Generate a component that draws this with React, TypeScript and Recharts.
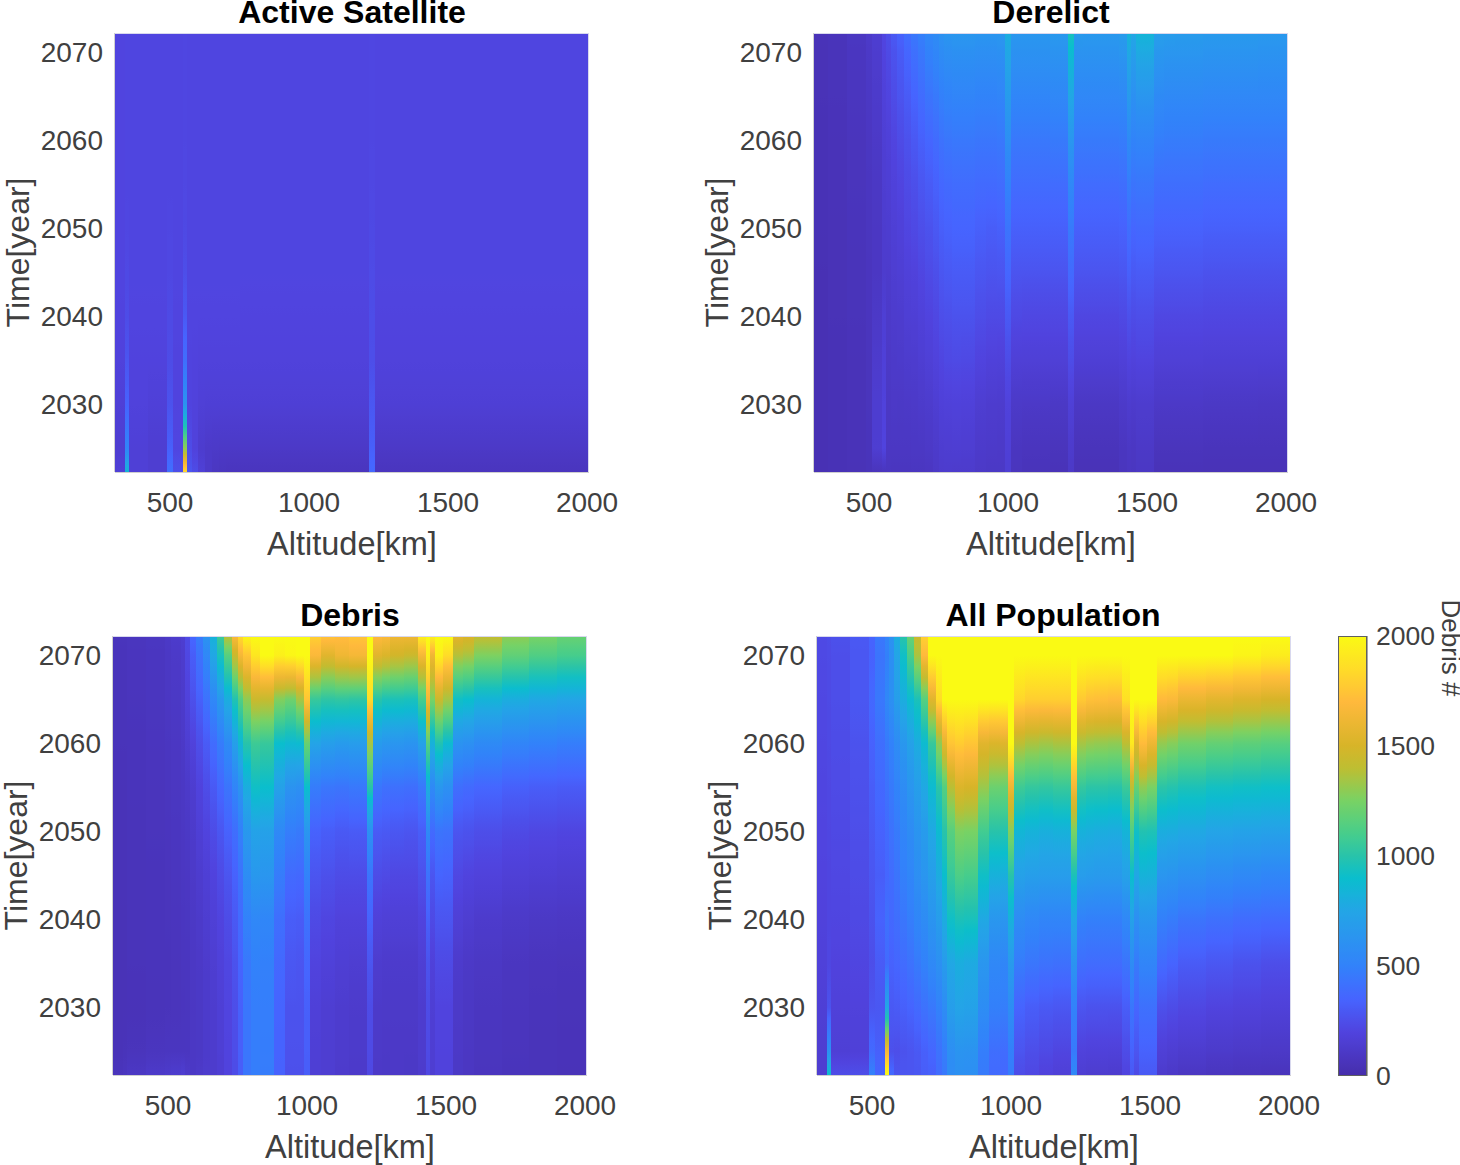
import { ScatterChart, Scatter, XAxis, YAxis } from 'recharts';

// column edges in km, narrow bins where the spikes and the steep flank sit
const altEdges = [
  302, 338, 352, 420, 490, 511, 547, 561, 580, 600, 625, 650, 675, 700, 730, 750, 770, 800, 830, 880, 920, 960, 990, 1010,
  1050, 1100, 1150, 1215, 1237, 1270, 1300, 1350, 1400, 1428, 1442, 1460, 1490, 1525, 1560, 1600, 1700,
  1800, 1900, 2007,
];
// rows run top to bottom of each panel
const yearNodes = [2072.2, 2070, 2065, 2060, 2055, 2050, 2045, 2040, 2035, 2030, 2025, 2022.3];
const altTicks = [500, 1000, 1500, 2000];
const yearTicks = [2030, 2040, 2050, 2060, 2070];
const colorbarTicks = [0, 500, 1000, 1500, 2000];
const colorbarLevels = [2000, 1900, 1800, 1700, 1600, 1500, 1400, 1300, 1200, 1100, 1000, 900, 800, 700, 600, 500, 400, 300, 200, 100, 0];

const activeGrid = [
  [205, 210, 210, 210, 210, 210, 215, 210, 210, 210, 210, 210, 210, 210, 210, 210, 210, 210, 210, 210, 210, 210, 210, 210, 210, 210, 210, 215, 210, 210, 210, 210, 210, 210, 210, 210, 210, 210, 210, 210, 210, 210, 210],
  [205, 210, 210, 210, 210, 210, 215, 210, 210, 210, 210, 210, 210, 210, 210, 210, 210, 210, 210, 210, 210, 210, 210, 210, 210, 210, 210, 215, 210, 210, 210, 210, 210, 210, 210, 210, 210, 210, 210, 210, 210, 210, 210],
  [205, 210, 210, 210, 210, 210, 215, 210, 210, 210, 210, 210, 210, 210, 210, 210, 210, 210, 210, 210, 210, 210, 210, 210, 210, 210, 210, 215, 210, 210, 210, 210, 210, 210, 210, 210, 210, 210, 210, 210, 210, 210, 210],
  [205, 210, 210, 210, 210, 210, 215, 210, 210, 210, 210, 210, 210, 210, 210, 210, 210, 210, 210, 210, 210, 210, 210, 210, 210, 210, 210, 215, 210, 210, 210, 210, 210, 210, 210, 210, 210, 210, 210, 210, 210, 210, 210],
  [205, 210, 210, 210, 210, 210, 220, 210, 210, 210, 210, 210, 210, 210, 210, 210, 210, 210, 210, 210, 210, 210, 210, 210, 210, 210, 210, 220, 210, 210, 210, 210, 210, 210, 210, 210, 210, 210, 210, 210, 210, 210, 210],
  [205, 215, 210, 210, 215, 210, 225, 210, 210, 210, 210, 210, 210, 210, 210, 210, 210, 210, 210, 210, 210, 210, 210, 210, 210, 210, 210, 225, 210, 210, 210, 210, 210, 210, 210, 210, 210, 210, 210, 210, 210, 210, 210],
  [205, 225, 210, 210, 220, 210, 250, 210, 210, 210, 210, 210, 210, 210, 210, 210, 210, 210, 210, 210, 210, 210, 210, 210, 210, 210, 210, 235, 210, 210, 210, 210, 210, 210, 210, 210, 210, 210, 210, 210, 210, 210, 210],
  [200, 240, 205, 205, 230, 205, 300, 205, 205, 205, 205, 205, 205, 205, 205, 200, 200, 200, 200, 200, 200, 200, 200, 200, 200, 200, 200, 245, 200, 200, 200, 200, 200, 200, 200, 200, 200, 200, 200, 200, 200, 200, 200],
  [190, 280, 195, 195, 240, 200, 400, 200, 195, 190, 190, 190, 190, 190, 190, 190, 190, 190, 190, 190, 190, 190, 190, 190, 190, 190, 190, 250, 190, 190, 190, 190, 190, 190, 190, 190, 190, 190, 190, 190, 190, 190, 190],
  [170, 340, 190, 175, 270, 200, 620, 200, 190, 170, 165, 165, 165, 165, 165, 165, 165, 165, 165, 165, 165, 165, 165, 165, 165, 165, 165, 290, 165, 165, 165, 165, 165, 165, 165, 165, 165, 165, 165, 165, 165, 165, 165],
  [150, 520, 170, 150, 330, 210, 1300, 240, 190, 140, 120, 115, 110, 110, 110, 110, 110, 110, 110, 110, 110, 110, 110, 110, 110, 110, 110, 330, 110, 110, 110, 110, 110, 110, 110, 110, 110, 110, 110, 110, 110, 110, 110],
  [170, 850, 170, 150, 400, 250, 1850, 280, 240, 170, 120, 90, 80, 75, 75, 75, 75, 75, 75, 75, 75, 75, 75, 75, 75, 75, 75, 370, 75, 75, 75, 75, 75, 75, 75, 75, 75, 75, 75, 75, 75, 75, 75],
];

const derelictGrid = [
  [55, 55, 65, 90, 120, 150, 210, 250, 300, 340, 400, 450, 490, 540, 570, 610, 640, 650, 650, 640, 640, 650, 800, 650, 650, 650, 660, 950, 670, 660, 660, 660, 680, 830, 760, 840, 840, 700, 690, 680, 670, 670, 660],
  [50, 50, 60, 85, 110, 140, 200, 230, 270, 310, 360, 410, 450, 500, 530, 570, 590, 600, 600, 590, 590, 600, 760, 610, 610, 610, 620, 880, 620, 620, 620, 620, 640, 770, 700, 780, 780, 650, 640, 640, 630, 630, 620],
  [50, 50, 60, 80, 100, 125, 180, 205, 240, 275, 310, 350, 390, 430, 455, 490, 510, 520, 520, 510, 510, 520, 680, 530, 530, 530, 540, 760, 540, 540, 540, 540, 550, 670, 600, 640, 640, 560, 550, 550, 540, 540, 540],
  [45, 45, 55, 70, 90, 110, 160, 175, 205, 235, 265, 295, 330, 360, 385, 420, 440, 450, 450, 440, 440, 450, 590, 450, 450, 450, 460, 640, 460, 460, 460, 460, 470, 560, 510, 520, 520, 480, 470, 470, 460, 460, 460],
  [45, 45, 55, 70, 85, 100, 150, 160, 185, 205, 235, 255, 285, 310, 335, 365, 380, 390, 390, 380, 380, 390, 500, 390, 390, 390, 390, 540, 390, 390, 390, 390, 400, 470, 430, 440, 440, 400, 400, 400, 390, 390, 390],
  [45, 45, 50, 65, 80, 95, 140, 145, 165, 180, 210, 225, 250, 270, 295, 325, 340, 350, 350, 330, 320, 330, 430, 330, 330, 330, 330, 460, 330, 330, 330, 330, 340, 400, 360, 370, 370, 340, 340, 340, 330, 330, 330],
  [40, 40, 50, 60, 75, 95, 135, 130, 150, 160, 180, 190, 215, 235, 255, 285, 300, 310, 310, 285, 275, 280, 360, 275, 275, 275, 275, 380, 275, 275, 275, 275, 285, 330, 300, 310, 310, 280, 280, 280, 270, 270, 270],
  [40, 40, 50, 60, 75, 110, 160, 120, 135, 140, 160, 165, 180, 200, 220, 250, 260, 270, 270, 245, 230, 230, 300, 225, 220, 220, 220, 300, 215, 215, 215, 215, 225, 260, 240, 250, 250, 220, 220, 220, 215, 215, 215],
  [40, 40, 45, 55, 70, 130, 175, 110, 120, 125, 135, 140, 155, 170, 190, 210, 225, 230, 225, 200, 185, 180, 240, 170, 170, 170, 170, 240, 165, 165, 165, 165, 175, 200, 190, 200, 200, 170, 170, 170, 165, 165, 165],
  [40, 40, 45, 55, 70, 145, 190, 100, 110, 108, 112, 115, 125, 135, 155, 175, 180, 185, 180, 150, 140, 135, 190, 115, 110, 110, 105, 170, 100, 100, 100, 100, 120, 140, 130, 140, 140, 110, 110, 110, 105, 105, 100],
  [40, 40, 45, 55, 65, 150, 200, 95, 95, 95, 95, 100, 100, 110, 125, 145, 150, 155, 150, 125, 120, 115, 170, 85, 75, 75, 70, 130, 65, 65, 65, 65, 85, 100, 95, 110, 110, 70, 70, 70, 65, 65, 65],
  [40, 40, 45, 50, 60, 70, 75, 85, 80, 80, 80, 85, 85, 90, 110, 130, 135, 130, 130, 110, 105, 105, 160, 75, 60, 60, 55, 110, 50, 50, 50, 50, 75, 90, 85, 100, 100, 55, 55, 55, 50, 50, 50],
];

const debrisGrid = [
  [70, 70, 80, 90, 110, 130, 150, 230, 360, 470, 620, 830, 1070, 1400, 1680, 1850, 1980, 2000, 2000, 2000, 2000, 2000, 2000, 1800, 1750, 1720, 1750, 2000, 1700, 1680, 1620, 1620, 1950, 2000, 1950, 2000, 2000, 1560, 1520, 1420, 1300, 1250, 1200],
  [65, 65, 75, 85, 100, 115, 135, 220, 320, 420, 540, 760, 950, 1150, 1450, 1650, 1750, 1900, 2000, 1950, 1980, 2000, 2000, 1680, 1550, 1620, 1650, 2000, 1550, 1520, 1480, 1450, 1650, 1950, 1620, 1950, 1850, 1380, 1350, 1260, 1180, 1130, 1100],
  [60, 60, 70, 80, 95, 105, 125, 190, 260, 330, 420, 540, 660, 800, 980, 1130, 1300, 1450, 1430, 1270, 1220, 1350, 1750, 1050, 1020, 1030, 1020, 1850, 1000, 960, 960, 950, 1100, 1650, 1250, 1450, 1350, 920, 900, 840, 800, 770, 750],
  [60, 60, 65, 75, 85, 95, 110, 150, 190, 250, 310, 390, 470, 560, 710, 860, 1000, 1070, 1050, 900, 870, 880, 1200, 740, 700, 680, 690, 1350, 680, 650, 640, 630, 720, 1150, 820, 980, 880, 620, 600, 560, 520, 500, 480],
  [55, 55, 65, 70, 80, 90, 100, 120, 145, 195, 245, 300, 365, 430, 520, 620, 800, 920, 900, 720, 620, 600, 900, 470, 440, 430, 450, 1000, 440, 410, 410, 400, 450, 800, 550, 650, 600, 400, 380, 360, 330, 320, 310],
  [55, 55, 60, 70, 75, 85, 95, 105, 125, 165, 200, 240, 285, 340, 400, 490, 660, 730, 720, 550, 480, 460, 640, 340, 320, 300, 310, 600, 310, 300, 290, 280, 320, 550, 380, 430, 420, 280, 270, 250, 230, 220, 210],
  [55, 55, 60, 65, 70, 80, 90, 95, 115, 140, 165, 195, 235, 280, 340, 420, 580, 660, 640, 470, 380, 370, 500, 280, 260, 240, 240, 430, 240, 230, 220, 220, 260, 420, 280, 350, 340, 220, 200, 190, 170, 160, 150],
  [50, 50, 60, 65, 70, 75, 85, 88, 105, 120, 145, 170, 200, 240, 300, 380, 500, 540, 530, 400, 320, 310, 420, 230, 210, 190, 190, 340, 180, 170, 170, 170, 200, 330, 230, 280, 280, 170, 150, 130, 115, 105, 100],
  [50, 50, 60, 65, 65, 70, 80, 82, 100, 110, 130, 150, 180, 215, 270, 350, 450, 500, 490, 370, 290, 280, 360, 200, 180, 160, 150, 280, 140, 130, 130, 130, 160, 270, 180, 230, 230, 130, 110, 100, 85, 75, 70],
  [50, 50, 55, 60, 65, 70, 75, 78, 95, 105, 125, 140, 165, 205, 250, 330, 440, 480, 480, 350, 270, 270, 330, 175, 155, 140, 130, 240, 120, 115, 115, 115, 140, 240, 160, 200, 200, 115, 100, 85, 75, 65, 60],
  [55, 60, 70, 80, 85, 85, 85, 85, 100, 105, 125, 135, 160, 200, 245, 325, 440, 480, 475, 345, 265, 265, 325, 165, 150, 135, 125, 230, 115, 110, 110, 110, 135, 230, 155, 195, 195, 110, 95, 80, 70, 60, 58],
  [70, 80, 100, 120, 130, 140, 150, 120, 105, 120, 135, 135, 155, 195, 240, 320, 440, 480, 470, 340, 260, 260, 320, 160, 150, 130, 120, 220, 110, 105, 110, 105, 130, 220, 150, 190, 190, 105, 90, 75, 65, 60, 55],
];

const allGrid = [
  [230, 240, 260, 300, 350, 450, 520, 620, 800, 1000, 1200, 1450, 1800, 2000, 2000, 2000, 2000, 2000, 2000, 2000, 2000, 2000, 2000, 2000, 2000, 2000, 2000, 2000, 2000, 2000, 2000, 2000, 2000, 2000, 2000, 2000, 2000, 2000, 2000, 2000, 2000, 2000, 2000],
  [225, 235, 250, 290, 340, 430, 490, 590, 750, 920, 1110, 1360, 1700, 2000, 2000, 2000, 2000, 2000, 2000, 2000, 2000, 2000, 2000, 2000, 2000, 2000, 2000, 2000, 2000, 2000, 2000, 2000, 2000, 2000, 2000, 2000, 2000, 2000, 2000, 2000, 2000, 1970, 1930],
  [220, 230, 250, 290, 370, 450, 540, 600, 700, 800, 880, 960, 1150, 1550, 1850, 2000, 2000, 2000, 2000, 2000, 2000, 2000, 2000, 1830, 1790, 1790, 1790, 2000, 1770, 1730, 1720, 1710, 1870, 2000, 2000, 2000, 2000, 1700, 1680, 1600, 1560, 1530, 1500],
  [215, 225, 240, 270, 340, 400, 460, 500, 570, 650, 720, 790, 880, 1050, 1300, 1560, 1750, 1780, 1750, 1550, 1520, 1540, 2000, 1400, 1360, 1340, 1360, 2000, 1350, 1320, 1310, 1300, 1400, 1920, 1540, 1710, 1610, 1310, 1280, 1230, 1190, 1170, 1150],
  [210, 220, 235, 260, 320, 370, 420, 460, 510, 570, 640, 700, 770, 880, 1010, 1140, 1390, 1520, 1500, 1320, 1210, 1200, 1610, 1070, 1040, 1030, 1050, 1650, 1040, 1010, 1010, 1000, 1060, 1400, 1190, 1300, 1250, 1010, 990, 960, 930, 920, 910],
  [205, 215, 225, 250, 300, 340, 380, 420, 460, 520, 570, 630, 680, 770, 880, 1000, 1150, 1260, 1250, 1085, 1000, 990, 1280, 850, 830, 810, 820, 1250, 820, 810, 800, 790, 840, 1130, 920, 980, 970, 800, 790, 770, 740, 730, 720],
  [200, 210, 220, 240, 285, 320, 360, 390, 430, 490, 530, 590, 640, 700, 790, 900, 1050, 1120, 1100, 920, 820, 810, 1000, 720, 700, 690, 690, 960, 690, 680, 670, 670, 720, 900, 760, 830, 820, 640, 630, 600, 570, 550, 530],
  [190, 210, 210, 225, 270, 340, 410, 370, 400, 440, 480, 530, 570, 630, 690, 790, 920, 960, 950, 770, 650, 640, 820, 570, 540, 520, 520, 760, 500, 490, 490, 490, 540, 720, 590, 650, 650, 490, 470, 430, 410, 390, 380],
  [180, 215, 195, 210, 250, 310, 380, 340, 360, 390, 420, 460, 500, 550, 600, 680, 760, 800, 780, 640, 540, 530, 670, 470, 440, 420, 410, 620, 400, 390, 390, 390, 430, 570, 460, 520, 520, 380, 350, 310, 290, 270, 250],
  [165, 270, 180, 190, 280, 290, 750, 300, 310, 330, 350, 380, 420, 450, 500, 570, 700, 740, 730, 580, 490, 480, 580, 350, 320, 300, 290, 500, 280, 270, 270, 270, 320, 440, 360, 410, 410, 260, 240, 220, 200, 190, 180],
  [150, 600, 165, 175, 380, 330, 1650, 260, 250, 270, 280, 300, 330, 360, 420, 480, 590, 630, 620, 480, 400, 390, 490, 280, 250, 230, 210, 460, 190, 185, 185, 180, 240, 340, 280, 340, 340, 170, 155, 140, 125, 115, 110],
  [150, 900, 240, 250, 500, 350, 2000, 380, 280, 280, 280, 290, 320, 330, 390, 450, 570, 600, 590, 460, 380, 370, 470, 240, 220, 190, 170, 550, 150, 140, 140, 135, 200, 300, 230, 300, 300, 130, 110, 90, 75, 70, 65],
];

// colormap: value, r, g, b
const colorStops = [
  [0, 70, 45, 170], [200, 80, 67, 222], [350, 70, 100, 255], [500, 50, 130, 250], [750, 35, 165, 230],
  [900, 10, 190, 205], [1000, 40, 195, 170], [1100, 70, 205, 140], [1250, 120, 210, 100], [1400, 190, 190, 50],
  [1500, 215, 180, 40], [1700, 255, 185, 60], [1850, 255, 220, 40], [2000, 250, 250, 20],
];

const colorFor = (value: number) => {
  const v = Math.min(2000, Math.max(0, value));
  let i = 0;
  while (i < colorStops.length - 2 && v > colorStops[i + 1][0]) i++;
  const a = colorStops[i];
  const b = colorStops[i + 1];
  const t = (v - a[0]) / (b[0] - a[0]);
  const mix = (k: number) => Math.round(a[k] + (b[k] - a[k]) * t);
  return `rgb(${mix(1)},${mix(2)},${mix(3)})`;
};

const FONT = '"Liberation Sans", Arial, sans-serif';
const TICK_COLOR = '#404040';
const PLOT_W = 474;
const PLOT_H = 439;
const ALT_DOMAIN = [302, 2007];
const YEAR_DOMAIN = [2022.3, 2072.2];

interface Cell {
  x: number;
  xEnd: number;
  y: number;
  yEnd: number;
  top: number;
  bottom: number;
  id: string;
}

const buildCells = (name: string, xs: number[], ys: number[], grid: number[][]) => {
  const cells: Cell[] = [];
  for (let r = 0; r < ys.length - 1; r++) {
    for (let c = 0; c < xs.length - 1; c++) {
      cells.push({
        x: xs[c],
        xEnd: xs[c + 1],
        y: ys[r + 1],
        yEnd: ys[r],
        top: grid[r][c],
        bottom: grid[r + 1][c],
        id: `${name}-${r}-${c}`,
      });
    }
  }
  return cells;
};

// x,y point is the lower left corner of the cell; size follows the axis scale
const makeCellShape = (pxPerX: number, pxPerY: number) => (props: any) => {
  const { cx, cy, payload } = props;
  const cell: Cell = payload;
  const w = (cell.xEnd - cell.x) * pxPerX;
  const h = (cell.yEnd - cell.y) * pxPerY;
  const steps = [0, 0.25, 0.5, 0.75, 1];
  return (
    <g>
      <linearGradient id={cell.id} x1="0" y1="0" x2="0" y2="1">
        {steps.map((s) => (
          <stop key={s} offset={s} stopColor={colorFor(cell.top + (cell.bottom - cell.top) * s)} />
        ))}
      </linearGradient>
      <rect x={cx} y={cy - h} width={w} height={h} fill={`url(#${cell.id})`} shapeRendering="crispEdges" />
    </g>
  );
};

const panelShape = makeCellShape(PLOT_W / (ALT_DOMAIN[1] - ALT_DOMAIN[0]), PLOT_H / (YEAR_DOMAIN[1] - YEAR_DOMAIN[0]));

interface PanelProps {
  title: string;
  name: string;
  grid: number[][];
  left: number;
  top: number;
  titleX: number;
}

const Panel = ({ title, name, grid, left, top, titleX }: PanelProps) => {
  const ml = 115;
  const mt = 33;
  return (
    <div style={{ position: 'absolute', left: left - ml, top: top - mt }}>
      <ScatterChart width={ml + PLOT_W + 40} height={mt + PLOT_H + 95} margin={{ top: mt, right: 40, bottom: 0, left: 0 }}>
        <XAxis
          type="number"
          dataKey="x"
          domain={ALT_DOMAIN}
          ticks={altTicks}
          allowDataOverflow
          height={95}
          interval={0}
          tickLine={false}
          tickMargin={14}
          stroke="#a0a0a0"
          tick={{ fontSize: 28, fill: TICK_COLOR, fontFamily: FONT }}
          label={{ value: 'Altitude[km]', position: 'insideBottom', offset: 12, fontSize: 32.5, fill: TICK_COLOR, fontFamily: FONT }}
        />
        <YAxis
          type="number"
          dataKey="y"
          domain={YEAR_DOMAIN}
          ticks={yearTicks}
          allowDataOverflow
          width={ml}
          interval={0}
          tickLine={false}
          tickMargin={6}
          stroke="#a0a0a0"
          tick={{ fontSize: 28, fill: TICK_COLOR, fontFamily: FONT }}
          label={{ value: 'Time[year]', angle: -90, position: 'insideLeft', offset: 18, fontSize: 32, fill: TICK_COLOR, fontFamily: FONT, style: { textAnchor: 'middle' } }}
        />
        <Scatter data={buildCells(name, altEdges, yearNodes, grid)} shape={panelShape} isAnimationActive={false} />
        <text x={titleX - left + ml} y={mt - 10} textAnchor="middle" fontSize={32} fontWeight="bold" fill="#000" fontFamily={FONT}>
          {title}
        </text>
      </ScatterChart>
      <div style={{ position: 'absolute', left: ml, top: mt, width: PLOT_W, height: PLOT_H, boxSizing: 'border-box', borderTop: '1px solid #d8d8ee', borderRight: '1px solid #d8d8ee', pointerEvents: 'none' }} />
    </div>
  );
};

const barEdges = [0, 1];
const barW = 29;
const barH = 440;
const barShape = makeCellShape(barW, barH / 2000);

const Colorbar = () => (
  <div style={{ position: 'absolute', left: 1338, top: 600 }}>
    <ScatterChart width={122} height={500} margin={{ top: 36, right: 0, bottom: 24, left: 0 }}>
      <XAxis type="number" dataKey="x" domain={[0, 1]} hide />
      <YAxis
        type="number"
        dataKey="y"
        orientation="right"
        domain={[0, 2000]}
        ticks={colorbarTicks}
        width={93}
        interval={0}
        tickLine={false}
        tickMargin={3}
        stroke="#505050"
        tick={{ fontSize: 26.5, fill: TICK_COLOR, fontFamily: FONT }}
      />
      <Scatter
        data={buildCells('bar', barEdges, colorbarLevels, colorbarLevels.map((v) => [v]))}
        shape={barShape}
        isAnimationActive={false}
      />
      <text x={104} y={48} transform="rotate(90 104 48)" textAnchor="middle" fontSize={26} fill={TICK_COLOR} fontFamily={FONT}>
        Debris #
      </text>
    </ScatterChart>
    <div style={{ position: 'absolute', left: 0, top: 36, width: barW, height: barH, boxSizing: 'border-box', border: '1px solid #606060', pointerEvents: 'none' }} />
  </div>
);

export default function App() {
  return (
    <div style={{ position: 'absolute', left: 0, top: 0, width: 1460, height: 1165, overflow: 'hidden', background: '#fff', fontFamily: FONT }}>
      <Panel title="Active Satellite" name="active" grid={activeGrid} left={115} top={33} titleX={352} />
      <Panel title="Derelict" name="derelict" grid={derelictGrid} left={814} top={33} titleX={1051} />
      <Panel title="Debris" name="debris" grid={debrisGrid} left={113} top={636} titleX={350} />
      <Panel title="All Population" name="all" grid={allGrid} left={817} top={636} titleX={1053} />
      <Colorbar />
    </div>
  );
}
